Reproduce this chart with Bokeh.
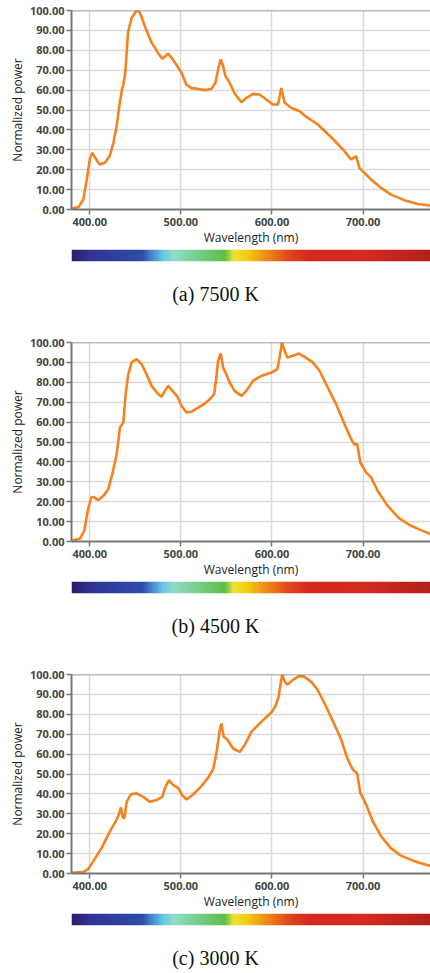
import numpy as np
from bokeh.plotting import figure
from bokeh.layouts import column
from bokeh.models import Range1d, FixedTicker, PrintfTickFormatter, Span
from bokeh.core.properties import value
from bokeh.embed import file_html
from bokeh.resources import INLINE

# ---------------- data ----------------
x_ticks = [400, 500, 600, 700]
y_ticks = [0, 10, 20, 30, 40, 50, 60, 70, 80, 90, 100]
x_label = "Wavelength (nm)"
y_label = "Normalized power"
captions = ["(a) 7500 K", "(b) 4500 K", "(c) 3000 K"]

wl_7500 = [380, 387.6, 393, 396.7, 400.4, 403, 406, 411, 416.8, 422, 426, 429.6, 433, 435.5, 436.9, 439,
           442, 446, 451.5, 455, 460.6, 467.9, 475, 479.6, 483, 486, 489.8, 495, 500.7, 506, 511.7, 519,
           526.3, 533.6, 538, 540.9, 543.8, 546.4, 549, 553.6, 559, 566.4, 571.9, 579.2, 586.5, 593.8,
           601, 606.6, 610.2, 613.9, 621, 630.3, 635.8, 650.4, 665, 679.6, 686.9, 692.3, 696, 701.5,
           708.8, 719.7, 730.7, 745.3, 759.9, 774]
p_7500 = [0.5, 1.2, 5, 15, 26, 28.5, 26, 22.6, 23.5, 27, 33.5, 42, 53.6, 60.5, 62.8, 68.7,
          88.8, 96.3, 100, 99, 92, 83.8, 78.7, 75.7, 77, 78.4, 76.2, 72.9, 68.7, 62.8, 61, 60.6,
          60, 60.6, 63.7, 70.4, 75.4, 72, 67, 63.7, 58.3, 53.9, 56, 58.1, 57.8, 55.3,
          52.8, 52.8, 61.1, 53.6, 51.1, 49.4, 47.2, 42.7, 36.3, 29.3, 25.1, 26.8, 20.9, 18.4,
          15.1, 10.9, 7.5, 4.7, 2.8, 2]

wl_4500 = [380, 389.4, 394, 397.8, 401.5, 404, 409.5, 415, 420.4, 424.8, 429.6, 433.2, 436.9, 439.4,
           442.3, 446, 451.5, 457, 462.4, 467.9, 474.5, 478.8, 482.5, 486, 490.9, 496.4, 500.7, 506.2,
           511.7, 519, 526.3, 531.8, 536.5, 539, 540.9, 543.8, 546.4, 549, 553.6, 559, 566.4, 571.9,
           579.2, 588.3, 599.3, 605.8, 608.4, 611, 613.9, 616.8, 623, 629.2, 635.8, 644.9, 652.2,
           661.3, 670.4, 679.6, 686.1, 690.5, 693.4, 697, 703.3, 708.8, 716, 727, 739.8, 752.6,
           763.5, 774]
p_4500 = [0.3, 1.5, 5.4, 15.4, 22.1, 22.4, 20.8, 23, 26.3, 33.8, 43.9, 57.3, 59.8, 74,
          84, 90, 91.6, 89.1, 84, 78.2, 74.4, 72.7, 75.7, 78.2, 75.7, 72.7, 68.2, 64.8,
          65.3, 67.3, 69.3, 71.5, 74, 82.4, 90.8, 94.5, 87.4, 84.9, 79.9, 75.7, 73.2, 75.7,
          80.7, 83.2, 84.9, 86.6, 92.5, 100, 95.8, 92.5, 93.3, 94.5, 92.8, 90, 85.8,
          77.4, 69, 59, 52.3, 48.6, 49.2, 39.7, 34.7, 32.2, 25.5, 17.9, 11.6, 7.9,
          5.7, 3.7]

wl_3000 = [380, 393, 398.5, 404, 413.1, 422.3, 429.6, 432, 434.3, 436.1, 438, 440.5, 445.3, 451.5,
           458.8, 466.1, 473.4, 479.6, 483.2, 486.9, 491.6, 497, 501.5, 506.2, 513.5, 522.6, 529.9,
           535.4, 539, 542.7, 544.5, 547, 551, 557.3, 564.6, 570, 577.4, 588.3, 599.3, 603.6, 607.3,
           609.5, 611.3, 613.9, 616.8, 623, 630.3, 635.8, 643.1, 650.4, 659.5, 668.6, 676, 682.5,
           688.7, 693.4, 697, 703.3, 710.6, 719.7, 730.7, 741.6, 756.2, 774]
p_3000 = [0.3, 0.7, 2.3, 6.2, 12.9, 21.3, 27.1, 29.8, 33.2, 28.5, 27.6, 36, 39.9, 40.2,
          38.5, 36, 36.9, 38.5, 43.6, 46.9, 44.4, 43, 39.4, 37.2, 39.7, 43.9, 48.1,
          52.3, 60.3, 72, 75.4, 68.7, 67.3, 62.8, 61.1, 64.5, 71.2, 76.2, 80.9, 83.8, 88.8,
          95.5, 100, 96.6, 94.8, 97.3, 99.3, 98.8, 96.3, 92.1, 83.8, 74.9, 67.3, 58.1,
          52.3, 50.3, 40.5, 34.7, 26.3, 18.8, 12.6, 9, 6.2, 3.7]

series = [(wl_7500, p_7500), (wl_4500, p_4500), (wl_3000, p_3000)]

# spectrum colour strip stops
strip_wl = [380, 400, 425, 458, 470, 480, 492, 520, 548, 558, 572, 595, 617, 640, 700, 774]
strip_col = ["#2a1d6e", "#30338f", "#2f3d9c", "#2f4ea8", "#4a90cf", "#62c6e6", "#8fdcc8",
             "#78cd88", "#5bbf48", "#ede232", "#f4cc12", "#ee8916", "#e04a1a", "#d6281f",
             "#d42a21", "#b3201b"]

# ---------------- style ----------------
ORANGE = "#f5821f"
FONT = "Open Sans"
X0, X1 = 380, 774
LEFT = 71
WIDTH = 430


def hex2rgb(h):
    return [int(h[i:i + 2], 16) for i in (1, 3, 5)]


def strip_image():
    centers = np.arange(X0, X1) + 0.5
    rgb = np.array([hex2rgb(c) for c in strip_col], dtype=float)
    img = np.zeros((1, len(centers)), dtype=np.uint32)
    view = img.view(dtype=np.uint8).reshape((1, len(centers), 4))
    for k in range(3):
        view[0, :, k] = np.round(np.interp(centers, strip_wl, rgb[:, k])).astype(np.uint8)
    view[0, :, 3] = 255
    return img


def main_fig(wl, pw):
    p = figure(width=WIDTH, height=248, x_range=Range1d(X0, X1), y_range=Range1d(0, 100),
               output_backend="svg", toolbar_location=None,
               min_border_left=LEFT, min_border_right=0, min_border_top=10, min_border_bottom=39)
    p.outline_line_color = None
    p.background_fill_color = "white"
    p.border_fill_color = "white"
    p.xgrid.grid_line_color = "#dadada"
    p.ygrid.grid_line_color = "#dadada"
    p.xgrid.grid_line_width = 1.5
    p.ygrid.grid_line_width = 1.5
    p.line(wl, pw, line_color=ORANGE, line_width=2.6)
    p.add_layout(Span(location=100, dimension="width", line_color="#777777", line_width=1.5))

    p.xaxis.ticker = FixedTicker(ticks=x_ticks)
    p.yaxis.ticker = FixedTicker(ticks=y_ticks)
    for ax in (p.xaxis[0], p.yaxis[0]):
        ax.formatter = PrintfTickFormatter(format="%.2f")
        ax.axis_line_color = "#777777"
        ax.axis_line_width = 2
        ax.major_tick_line_color = "#777777"
        ax.major_tick_line_width = 1.5
        ax.major_tick_in = 0
        ax.major_tick_out = 5
        ax.minor_tick_line_color = None
        ax.major_label_text_font = FONT
        ax.major_label_text_font_style = "bold"
        ax.major_label_text_font_size = "11px"
        ax.major_label_text_color = "#444444"
        ax.axis_label_text_font = FONT
        ax.axis_label_text_font_style = "normal"
        ax.axis_label_text_font_size = "12px"
        ax.axis_label_text_color = "#222222"
    p.xaxis.axis_label = x_label
    p.yaxis.axis_label = y_label
    p.xaxis.major_label_standoff = 3
    p.xaxis.axis_label_standoff = 0
    p.yaxis.major_label_standoff = 2
    p.yaxis.axis_label_standoff = 1
    return p


def strip_fig():
    s = figure(width=WIDTH, height=14, x_range=Range1d(X0, X1), y_range=Range1d(0, 1),
               output_backend="svg", toolbar_location=None,
               x_axis_location=None, y_axis_location=None,
               min_border_left=LEFT, min_border_right=0, min_border_top=1, min_border_bottom=1)
    s.outline_line_color = None
    s.grid.visible = False
    s.image_rgba(image=[strip_image()], x=X0, y=0, dw=X1 - X0, dh=1)
    return s


def caption_fig(text, h):
    # frame spans the same columns as the plots; caption is centred on the whole page width
    c = figure(width=WIDTH, height=h, x_range=Range1d(0, 1), y_range=Range1d(h, 0),
               output_backend="svg", toolbar_location=None,
               x_axis_location=None, y_axis_location=None,
               min_border_left=LEFT, min_border_right=0,
               min_border_top=0, min_border_bottom=0)
    c.outline_line_color = None
    c.grid.visible = False
    c.text(x=[0.5], y=[31], text=[text], text_align="center", text_baseline="middle",
           x_offset=-LEFT / 2,
           text_font=value("Liberation Serif"), text_font_size="20px", text_color="#111111")
    return c


parts = []
cap_heights = [70, 70, 47]
for (wl, pw), cap, ch in zip(series, captions, cap_heights):
    parts.append(main_fig(wl, pw))
    parts.append(strip_fig())
    parts.append(caption_fig(cap, ch))

layout = column(*parts, spacing=0)
open("out.html", "w").write(file_html(layout, INLINE))
